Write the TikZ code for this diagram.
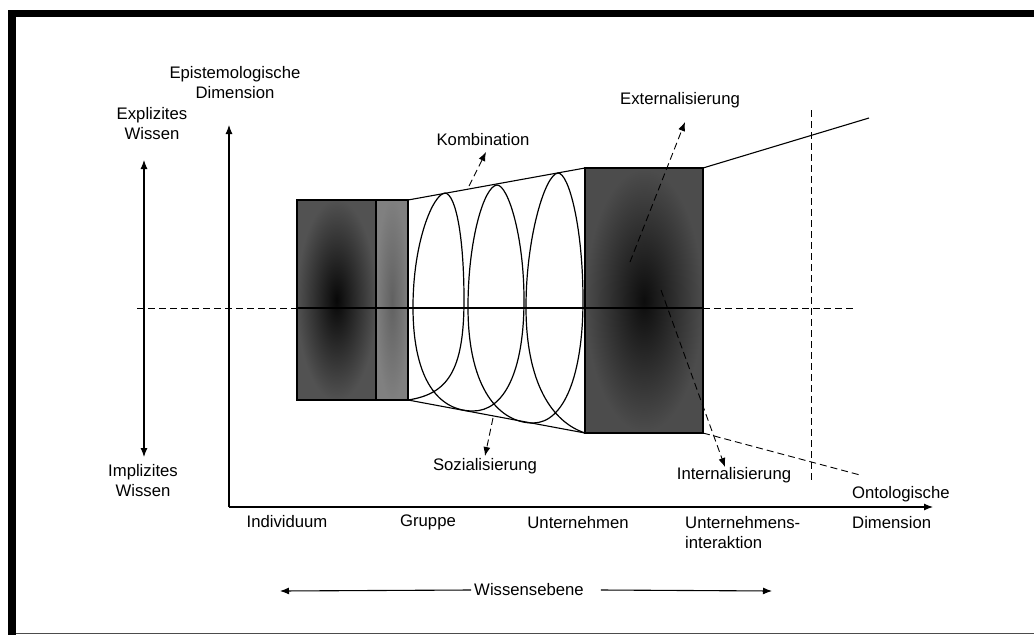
\documentclass[tikz,border=0pt]{standalone}
\usepackage{fontspec}
\setmainfont{Liberation Sans}
\usetikzlibrary{arrows.meta}
\begin{document}
\begin{tikzpicture}[x=1pt,y=-1pt,
  lbl/.style={font=\fontsize{16.7}{20}\selectfont, inner sep=0pt, align=center},
  lbll/.style={lbl, align=left, anchor=west},
  tip/.style={-{Latex[length=9pt,width=7pt]}},
  axis/.style={line width=1.1pt, tip},
  dashln/.style={line width=0.9pt, dash pattern=on 7pt off 4pt},
  dasharrow/.style={dashln, tip},
  solidln/.style={line width=1.1pt},
  spiral/.style={line width=1.2pt},
  levelbox/.style={draw, line width=1.2pt, outer sep=0pt, inner sep=0pt}]

\useasboundingbox (0,0) rectangle (1034,635);
\fill[white] (0,0) rectangle (1034,635);

% frame
\fill (8,10) rectangle (1034,17);
\fill (8,10) rectangle (16,635);
\draw[black!70, line width=0.8pt] (16,633.5) -- (1034,633.5);

% knowledge level blocks
\node[levelbox, shade, inner color=black!97, outer color=black!68,
      minimum width=79, minimum height=200] (ind) at (336.5,300) {};
\node[levelbox, shade, inner color=black!62, outer color=black!50,
      minimum width=32, minimum height=200] (grp) at (392,300) {};
\node[levelbox, shade, inner color=black!95, outer color=black!70,
      minimum width=118, minimum height=265] (unt) at (644,300.5) {};

% widening cone
\draw[solidln] (grp.north east) -- (unt.north west);
\draw[solidln] (grp.south east) -- (unt.south west);
\coordinate (topend) at (869,118);
\coordinate (botend) at (860,475);
\draw[solidln] (unt.north east) -- (topend);
\draw[dashln] (unt.south east) -- (botend);

% centre line
\coordinate (cl) at (137,308);
\coordinate (cr) at (853,308);
\draw[dashln] (cl) -- (ind.west |- cl);
\draw[solidln] (ind.west |- cl) -- (unt.east |- cl);
\draw[dashln] (unt.east |- cr) -- (cr);

% boundary of the inter-organisational level
\coordinate (vt) at (811,110);
\coordinate (vb) at (811,483);
\draw[dashln] (vt) -- (vb);

% knowledge spiral: up on the right, over the top, down on the left
\draw[spiral] (grp.south east)
  .. controls (447,394) and (464,372) .. (464,300)
  .. controls (464,238) and (456,194) .. (445,193)
  .. controls (433,194) and (413,242) .. (413,307)
  .. controls (413,382) and (440,411) .. (473,411)
  .. controls (504,411) and (524,372) .. (524,300)
  .. controls (524,236) and (508,185) .. (497,185)
  .. controls (484,186) and (468,240) .. (468,307)
  .. controls (468,390) and (500,423) .. (533,423)
  .. controls (564,423) and (583,375) .. (583,300)
  .. controls (583,228) and (569,173) .. (558,173)
  .. controls (545,174) and (526,238) .. (526,307)
  .. controls (526,383) and (552,422) .. (unt.south west);

% axes
\coordinate (origin) at (229,507);
\coordinate (ytip) at (229,125);
\coordinate (xtip) at (933,507);
\draw[axis] (origin) -- (ytip);
\draw[axis] (origin) -- (xtip);
\coordinate (exp) at (144,160);
\coordinate (imp) at (144,457);
\draw[line width=1.1pt, {Latex[length=9pt,width=7pt]}-{Latex[length=9pt,width=7pt]}] (imp) -- (exp);

% labels
\node[lbl] (epi) at (235,83) {Epistemologische\\Dimension};
\node[lbl] (expl) at (152,124) {Explizites\\Wissen};
\node[lbl] (impl) at (143,481) {Implizites\\Wissen};
\node[lbl] (komb) at (483,140) {Kombination};
\node[lbl] (extl) at (680,100) {Externalisierung};
\node[lbl] (soz) at (485,466) {Sozialisierung};
\node[lbl] (intl) at (734,475) {Internalisierung};
\node[lbll] (onto) at (852,508) {Ontologische\\[10pt]Dimension};
\node[lbl] (l1) at (287,522) {Individuum};
\node[lbl] (l2) at (428,522) {Gruppe};
\node[lbl] (l3) at (578,523) {Unternehmen};
\node[lbll] (l4) at (685,533) {Unternehmens-\\interaktion};
\node[lbl] (wiss) at (529,590) {Wissensebene};

% conversion arrows
\coordinate (k0) at (469,186);
\coordinate (k1) at (486,152);
\draw[dasharrow] (k0) -- (k1);
\coordinate (s0) at (493,418);
\coordinate (s1) at (485,456);
\draw[dasharrow] (s0) -- (s1);
\coordinate (e0) at (630,262);
\coordinate (e1) at (685,122);
\draw[dasharrow] (e0) -- (e1);
\coordinate (i0) at (661,290);
\coordinate (i1) at (725,467);
\draw[dasharrow] (i0) -- (i1);

% knowledge level arrows
\coordinate (wl) at (280,591);
\coordinate (wr) at (772,591);
\draw[axis] ([xshift=-3pt]wiss.west) -- (wl);
\draw[axis] ([xshift=17pt]wiss.east) -- (wr);
\end{tikzpicture}
\end{document}
